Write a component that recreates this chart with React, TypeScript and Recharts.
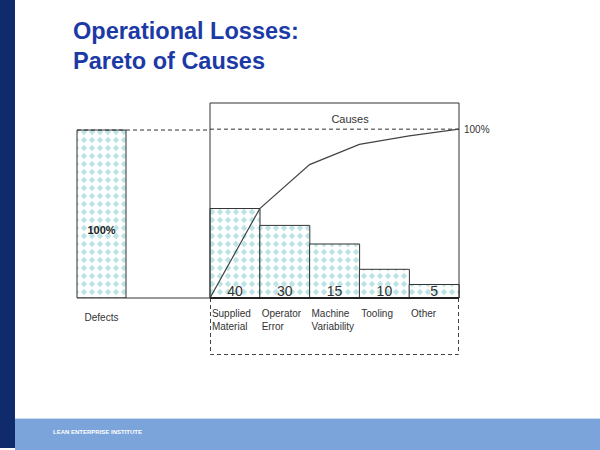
import React from "react";
import {
  ComposedChart,
  BarChart,
  Bar,
  Line,
  XAxis,
  YAxis,
  ReferenceLine,
  LabelList,
} from "recharts";

const causes = ["Supplied\nMaterial", "Operator\nError", "Machine\nVariability", "Tooling", "Other"];
const counts = [40, 30, 15, 10, 5];
// bar heights as drawn on the slide, in % of total defects
const barLevels = [53, 43, 32, 17, 8];
// cumulative curve, read at the right edge of each bar
const cumulative = [0, 53, 79, 91, 96, 100];
const defectsTotal = [100];
const defectsLabel = ["Defects"];

const Y_MAX = 115.5;
const FONT = "'Liberation Sans', Arial, sans-serif";
const INK = "#333";

const causeData = causes.map((name, i) => ({ name, level: barLevels[i], count: counts[i] }));
const cumData = cumulative.map((v, i) => ({ pos: i, v }));
const defectData = defectsLabel.map((name, i) => ({ name, value: defectsTotal[i] }));

const CauseTick = (props: any) => {
  const { x, y, payload } = props;
  const lines = String(payload.value).split("\n");
  const left = x - 23;
  return (
    <text x={left} y={y} fontSize={10} fill={INK} fontFamily={FONT}>
      {lines.map((l, i) => (
        <tspan key={i} x={left} dy={i === 0 ? 11 : 13}>
          {l}
        </tspan>
      ))}
    </text>
  );
};

const DefectLabel = (props: any) => {
  const { x, y, width, height, value } = props;
  return (
    <text
      x={x + width / 2}
      y={y + height / 2 + 20}
      textAnchor="middle"
      fontSize={11}
      fontWeight="bold"
      fill="#222"
      fontFamily={FONT}
    >
      {value}%
    </text>
  );
};

const CountLabel = (props: any) => {
  const { x, y, width, height, value } = props;
  return (
    <text
      x={x + width / 2}
      y={y + height - 2}
      textAnchor="middle"
      fontSize={14}
      fill={INK}
      fontFamily={FONT}
    >
      {value}
    </text>
  );
};

export default function App() {
  return (
    <div
      style={{
        position: "absolute",
        left: 0,
        top: 0,
        width: 600,
        height: 450,
        background: "#fff",
        overflow: "hidden",
        fontFamily: FONT,
      }}
    >
      <svg width={0} height={0} style={{ position: "absolute" }}>
        <defs>
          <pattern id="diamonds" width={8} height={8} patternUnits="userSpaceOnUse">
            <rect width={8} height={8} fill="#fff" />
            <path d="M4 0.8 L7.2 4 L4 7.2 L0.8 4 Z" fill="#bde3e6" />
          </pattern>
        </defs>
      </svg>

      {/* slide frame */}
      <div style={{ position: "absolute", left: 0, top: 0, width: 15, height: 448, background: "#0f2b6b" }} />
      <div
        style={{
          position: "absolute",
          left: 15,
          top: 418,
          width: 585,
          height: 32,
          background: "#7ba4da",
          borderTop: "1px solid #c9daf0",
        }}
      />
      <div
        style={{
          position: "absolute",
          left: 53,
          top: 429,
          fontSize: 6,
          fontWeight: "bold",
          color: "#fff",
        }}
      >
        LEAN ENTERPRISE INSTITUTE
      </div>
      <div
        style={{
          position: "absolute",
          left: 73,
          top: 16,
          fontSize: 23.5,
          lineHeight: "30px",
          fontWeight: "bold",
          color: "#1c3aa5",
        }}
      >
        Operational Losses:
        <br />
        Pareto of Causes
      </div>

      {/* dashed box under the category labels */}
      <svg width={600} height={450} style={{ position: "absolute", left: 0, top: 0 }}>
        <path d="M210.5 298 V354.5 H458.5 V298" fill="none" stroke="#444" strokeDasharray="4 3" />
      </svg>

      {/* total defects bar */}
      <div style={{ position: "absolute", left: 0, top: 0 }}>
        <BarChart
          width={600}
          height={450}
          data={defectData}
          margin={{ top: 104, right: 390, bottom: 112, left: 77 }}
          barCategoryGap={0}
        >
          <XAxis
            dataKey="name"
            height={40}
            padding={{ left: 0, right: 84 }}
            axisLine={{ stroke: INK }}
            tickLine={false}
            tickMargin={10}
            tick={{ fontSize: 10, fill: INK, fontFamily: FONT }}
          />
          <YAxis hide domain={[0, Y_MAX]} allowDataOverflow />
          <ReferenceLine y={100} stroke={INK} strokeDasharray="4 3" />
          <Bar dataKey="value" fill="url(#diamonds)" stroke={INK} isAnimationActive={false}>
            <LabelList dataKey="value" content={DefectLabel} />
          </Bar>
        </BarChart>
      </div>

      {/* causes */}
      <div style={{ position: "absolute", left: 0, top: 0 }}>
        <ComposedChart
          width={600}
          height={450}
          data={causeData}
          margin={{ top: 103, right: 101, bottom: 112, left: 209 }}
          barCategoryGap={0}
        >
          <XAxis
            xAxisId="cat"
            dataKey="name"
            height={40}
            interval={0}
            axisLine={{ stroke: "#222", strokeWidth: 2 }}
            tickLine={false}
            tick={<CauseTick />}
          />
          <XAxis xAxisId="num" type="number" dataKey="pos" domain={[0, 5]} allowDataOverflow hide />
          <XAxis
            xAxisId="top"
            orientation="top"
            type="number"
            domain={[0, 5]}
            allowDataOverflow
            ticks={[2.25]}
            tickFormatter={() => "Causes"}
            height={1}
            mirror
            axisLine={{ stroke: INK }}
            tickLine={false}
            tickSize={6}
            tickMargin={6}
            tick={{ fontSize: 11, fill: INK, fontFamily: FONT }}
          />
          <YAxis
            yAxisId="left"
            width={1}
            domain={[0, Y_MAX]}
            allowDataOverflow
            ticks={[0]}
            tick={false}
            axisLine={{ stroke: INK }}
            tickLine={false}
          />
          <YAxis
            yAxisId="right"
            orientation="right"
            width={40}
            domain={[0, Y_MAX]}
            allowDataOverflow
            ticks={[100]}
            tickFormatter={(v: number) => `${v}%`}
            axisLine={{ stroke: INK }}
            tickLine={false}
            tickSize={3}
            tickMargin={2}
            tick={{ fontSize: 10, fill: INK, fontFamily: FONT, textAnchor: "start" }}
          />
          <ReferenceLine xAxisId="cat" yAxisId="left" y={100} stroke={INK} strokeDasharray="4 3" />
          <Bar
            xAxisId="cat"
            yAxisId="left"
            dataKey="level"
            fill="url(#diamonds)"
            stroke={INK}
            isAnimationActive={false}
          >
            <LabelList dataKey="count" content={CountLabel} />
          </Bar>
          <Line
            xAxisId="num"
            yAxisId="left"
            data={cumData}
            dataKey="v"
            type="linear"
            stroke="#444"
            strokeWidth={1.2}
            dot={false}
            isAnimationActive={false}
          />
        </ComposedChart>
      </div>
    </div>
  );
}
